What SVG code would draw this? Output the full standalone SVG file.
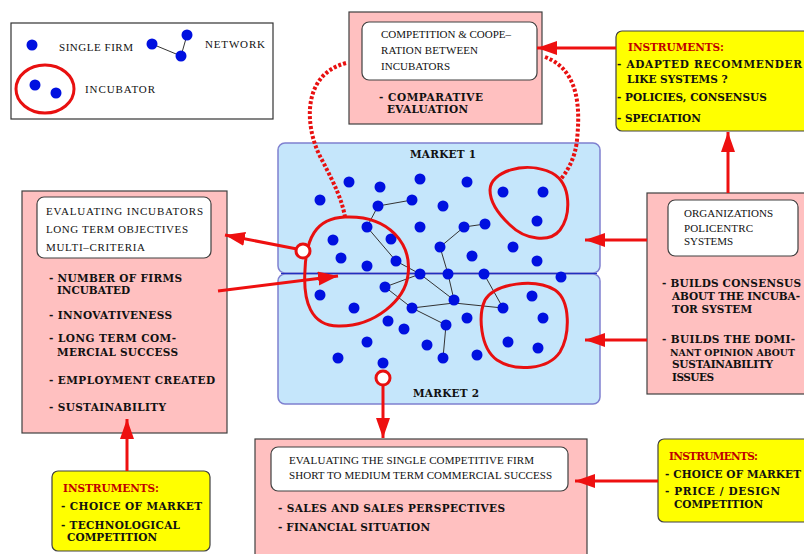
<svg xmlns="http://www.w3.org/2000/svg" width="804" height="554" viewBox="0 0 804 554">
<defs>
<style>
.pink{fill:#ffc0c0;stroke:#404040;stroke-width:1.2}
.yel{fill:#ffff00;stroke:#404040;stroke-width:1.2}
.wbox{fill:#ffffff;stroke:#404040;stroke-width:1.2}
.mkt{fill:#c5e6fb;stroke:#7f80d0;stroke-width:1.5}
.reg{font-family:"Liberation Serif","Times New Roman",serif;font-size:11px;fill:#111}
.bold{font-family:"DejaVu Serif",serif;font-weight:bold;font-size:10.5px;fill:#111}
.instr{font-family:"DejaVu Serif",serif;font-weight:bold;font-size:10.5px;fill:#c00000}
.dot{fill:#0010e0}
.net{stroke:#333;stroke-width:1;fill:none}
.inc{fill:none;stroke:#e81010;stroke-width:3}
.dotted{fill:none;stroke:#e81010;stroke-width:4;stroke-dasharray:3 2}
.arr{stroke:#ee1010;stroke-width:3;fill:none;marker-end:url(#ah)}
.ring{fill:#ffffff;stroke:#e81010;stroke-width:3}
</style>
<marker id="ah" markerUnits="userSpaceOnUse" markerWidth="22" markerHeight="16" refX="20" refY="7" orient="auto">
<path d="M0,0 L20,7 L0,14 z" fill="#ee1010"/>
</marker>
</defs>
<rect width="804" height="554" fill="#ffffff"/>

<g id="legend">
<rect x="11" y="23" width="262" height="96" fill="#fff" stroke="#333" stroke-width="1.2"/>
<circle class="dot" cx="32" cy="45" r="5.5"/>
<text class="reg" x="59" y="51" textLength="74">SINGLE FIRM</text>
<line class="net" x1="152" y1="44" x2="181" y2="56"/>
<line class="net" x1="181" y1="56" x2="187" y2="35"/>
<circle class="dot" cx="152" cy="44" r="5.5"/>
<circle class="dot" cx="187" cy="35" r="5.5"/>
<circle class="dot" cx="181" cy="56" r="5.5"/>
<text class="reg" x="205" y="48" textLength="60">NETWORK</text>
<ellipse class="inc" cx="45" cy="89" rx="29" ry="24"/>
<circle class="dot" cx="35" cy="85" r="5.5"/>
<circle class="dot" cx="56" cy="93" r="5.5"/>
<text class="reg" x="85" y="93" textLength="70">INCUBATOR</text>
</g>

<g id="competition">
<rect class="pink" x="349" y="12" width="193" height="112"/>
<rect class="wbox" x="362" y="22" width="175" height="58" rx="7"/>
<text class="reg" x="381" y="38" textLength="130">COMPETITION &amp; COOPE–</text>
<text class="reg" x="381" y="54" textLength="97">RATION BETWEEN</text>
<text class="reg" x="381" y="70" textLength="69">INCUBATORS</text>
<text class="bold" x="379" y="101" textLength="104">- COMPARATIVE</text>
<text class="bold" x="387" y="113" textLength="81">EVALUATION</text>
</g>

<g id="instruments-top">
<rect class="yel" x="616" y="31" width="200" height="100" rx="6"/>
<text class="instr" x="628" y="51" textLength="96">INSTRUMENTS:</text>
<text class="bold" x="617" y="68" textLength="185">- ADAPTED RECOMMENDER</text>
<text class="bold" x="627" y="83">LIKE SYSTEMS ?</text>
<text class="bold" x="617" y="101">- POLICIES, CONSENSUS</text>
<text class="bold" x="617" y="122">- SPECIATION</text>
</g>

<g id="markets">
<rect class="mkt" x="278" y="143" width="322" height="130" rx="7"/>
<rect class="mkt" x="278" y="274" width="322" height="130" rx="7"/>
<line x1="281" y1="273.5" x2="597" y2="273.5" stroke="#2030c0" stroke-width="1.2"/>
<text class="bold" x="410" y="158" textLength="66">MARKET 1</text>
<text class="bold" x="413" y="397" textLength="66">MARKET 2</text>
</g>

<g id="network-links">
<line class="net" x1="378" y1="206" x2="412" y2="200"/>
<line class="net" x1="378" y1="206" x2="367" y2="227"/>
<line class="net" x1="367" y1="227" x2="396" y2="261"/>
<line class="net" x1="396" y1="261" x2="420" y2="274"/>
<line class="net" x1="420" y1="274" x2="385" y2="287"/>
<line class="net" x1="420" y1="274" x2="454" y2="300"/>
<line class="net" x1="448" y1="274" x2="454" y2="300"/>
<line class="net" x1="440" y1="247" x2="448" y2="274"/>
<line class="net" x1="440" y1="247" x2="464" y2="227"/>
<line class="net" x1="464" y1="227" x2="485" y2="224"/>
<line class="net" x1="484" y1="274" x2="503" y2="308"/>
<line class="net" x1="385" y1="287" x2="412" y2="308"/>
<polyline class="net" points="412,308 454,303 503,308"/>
<line class="net" x1="412" y1="308" x2="446" y2="325"/>
<line class="net" x1="446" y1="325" x2="443" y2="358"/>
</g>

<g id="firms">
<circle class="dot" cx="349" cy="182" r="5.5"/>
<circle class="dot" cx="380" cy="187" r="5.5"/>
<circle class="dot" cx="420" cy="179" r="5.5"/>
<circle class="dot" cx="467" cy="182" r="5.5"/>
<circle class="dot" cx="320" cy="200" r="5.5"/>
<circle class="dot" cx="378" cy="206" r="5.5"/>
<circle class="dot" cx="412" cy="200" r="5.5"/>
<circle class="dot" cx="443" cy="206" r="5.5"/>
<circle class="dot" cx="503" cy="192" r="5.5"/>
<circle class="dot" cx="543" cy="192" r="5.5"/>
<circle class="dot" cx="537" cy="221" r="5.5"/>
<circle class="dot" cx="367" cy="227" r="5.5"/>
<circle class="dot" cx="420" cy="227" r="5.5"/>
<circle class="dot" cx="464" cy="227" r="5.5"/>
<circle class="dot" cx="485" cy="224" r="5.5"/>
<circle class="dot" cx="333" cy="240" r="5.5"/>
<circle class="dot" cx="391" cy="239" r="5.5"/>
<circle class="dot" cx="440" cy="247" r="5.5"/>
<circle class="dot" cx="472" cy="256" r="5.5"/>
<circle class="dot" cx="513" cy="247" r="5.5"/>
<circle class="dot" cx="341" cy="258" r="5.5"/>
<circle class="dot" cx="367" cy="266" r="5.5"/>
<circle class="dot" cx="396" cy="261" r="5.5"/>
<circle class="dot" cx="537" cy="261" r="5.5"/>
<circle class="dot" cx="420" cy="274" r="5.5"/>
<circle class="dot" cx="448" cy="274" r="5.5"/>
<circle class="dot" cx="484" cy="274" r="5.5"/>
<circle class="dot" cx="561" cy="277" r="5.5"/>
<circle class="dot" cx="320" cy="295" r="5.5"/>
<circle class="dot" cx="385" cy="287" r="5.5"/>
<circle class="dot" cx="354" cy="308" r="5.5"/>
<circle class="dot" cx="454" cy="300" r="5.5"/>
<circle class="dot" cx="532" cy="296" r="5.5"/>
<circle class="dot" cx="412" cy="308" r="5.5"/>
<circle class="dot" cx="503" cy="308" r="5.5"/>
<circle class="dot" cx="467" cy="318" r="5.5"/>
<circle class="dot" cx="543" cy="318" r="5.5"/>
<circle class="dot" cx="388" cy="321" r="5.5"/>
<circle class="dot" cx="404" cy="329" r="5.5"/>
<circle class="dot" cx="446" cy="325" r="5.5"/>
<circle class="dot" cx="508" cy="342" r="5.5"/>
<circle class="dot" cx="538" cy="348" r="5.5"/>
<circle class="dot" cx="367" cy="342" r="5.5"/>
<circle class="dot" cx="427" cy="345" r="5.5"/>
<circle class="dot" cx="338" cy="358" r="5.5"/>
<circle class="dot" cx="383" cy="363" r="5.5"/>
<circle class="dot" cx="443" cy="358" r="5.5"/>
<circle class="dot" cx="477" cy="355" r="5.5"/>
</g>

<g id="incubators">
<path class="inc" d="M345 217 C390 215 412 245 408 275 C405 300 375 326 340 326 C310 327 303 300 305 270 C306 240 315 218 345 217 Z"/>
<path class="inc" d="M490 190 C490 172 525 160 552 173 C572 184 571 215 560 230 C550 243 525 240 510 225 C496 212 490 200 490 190 Z"/>
<path class="inc" d="M485 300 C495 283 535 278 555 290 C571 301 570 335 560 352 C548 370 515 372 497 360 C480 348 478 315 485 300 Z"/>
</g>

<g id="left-panel">
<rect class="pink" x="22" y="191" width="205" height="242"/>
<rect class="wbox" x="37" y="197" width="174" height="61" rx="7"/>
<text class="reg" x="46" y="215" textLength="157">EVALUATING INCUBATORS</text>
<text class="reg" x="46" y="233" textLength="142">LONG TERM OBJECTIVES</text>
<text class="reg" x="46" y="251" textLength="99">MULTI–CRITERIA</text>
<text class="bold" x="49" y="282" textLength="133">- NUMBER OF FIRMS</text>
<text class="bold" x="57" y="294" textLength="73">INCUBATED</text>
<text class="bold" x="49" y="319" textLength="123">- INNOVATIVENESS</text>
<text class="bold" x="49" y="342" textLength="127">- LONG TERM COM-</text>
<text class="bold" x="57" y="356" textLength="121">MERCIAL SUCCESS</text>
<text class="bold" x="49" y="384" textLength="166">- EMPLOYMENT CREATED</text>
<text class="bold" x="49" y="411" textLength="117">- SUSTAINABILITY</text>
</g>

<g id="right-panel">
<rect class="pink" x="647" y="193" width="170" height="201"/>
<rect class="wbox" x="668" y="200" width="130" height="56" rx="7"/>
<text class="reg" x="684" y="217" textLength="89">ORGANIZATIONS</text>
<text class="reg" x="684" y="232" textLength="69">POLICENTRC</text>
<text class="reg" x="684" y="245" textLength="49">SYSTEMS</text>
<text class="bold" x="662" y="287" textLength="139">- BUILDS CONSENSUS</text>
<text class="bold" x="672" y="300" textLength="128">ABOUT THE INCUBA-</text>
<text class="bold" x="672" y="313" textLength="80">TOR SYSTEM</text>
<text class="bold" x="662" y="343" textLength="133">- BUILDS THE DOMI-</text>
<text class="bold" x="670" y="356" style="font-size:9.3px">NANT OPINION ABOUT</text>
<text class="bold" x="672" y="368" textLength="101">SUSTAINABILITY</text>
<text class="bold" x="672" y="381" textLength="42">ISSUES</text>
</g>

<g id="bottom-panel">
<rect class="pink" x="255" y="439" width="332" height="125"/>
<rect class="wbox" x="271" y="447" width="297" height="44" rx="7"/>
<text class="reg" x="289" y="464" textLength="245">EVALUATING THE SINGLE COMPETITIVE FIRM</text>
<text class="reg" x="289" y="479" textLength="263">SHORT TO MEDIUM TERM COMMERCIAL SUCCESS</text>
<text class="bold" x="278" y="512" textLength="227">- SALES AND SALES PERSPECTIVES</text>
<text class="bold" x="278" y="531" textLength="152">- FINANCIAL SITUATION</text>
</g>

<g id="instruments-left">
<rect class="yel" x="52" y="471" width="158" height="80" rx="6"/>
<text class="instr" x="63" y="492" textLength="96">INSTRUMENTS:</text>
<text class="bold" x="61" y="510" textLength="141">- CHOICE OF MARKET</text>
<text class="bold" x="61" y="529" textLength="119">- TECHNOLOGICAL</text>
<text class="bold" x="67" y="541" textLength="90">COMPETITION</text>
</g>

<g id="instruments-right">
<rect class="yel" x="658" y="439" width="160" height="83" rx="6"/>
<text class="instr" x="669" y="460" textLength="89">INSTRUMENTS:</text>
<text class="bold" x="665" y="478" textLength="136">- CHOICE OF MARKET</text>
<text class="bold" x="665" y="495" textLength="115">- PRICE / DESIGN</text>
<text class="bold" x="674" y="508" textLength="89">COMPETITION</text>
</g>

<g id="connectors">
<path class="dotted" d="M346 63 C300 75 305 130 322 160 C335 185 342 200 345 217"/>
<path class="dotted" d="M545 57 C580 70 580 110 577 140 C575 160 566 173 560 180"/>
<line class="arr" x1="616" y1="48" x2="537" y2="48"/>
<line class="arr" x1="728" y1="193" x2="728" y2="132"/>
<line class="arr" x1="647" y1="240" x2="585" y2="240"/>
<line class="arr" x1="647" y1="340" x2="585" y2="340"/>
<line class="arr" x1="297" y1="249" x2="225" y2="235"/>
<line class="arr" x1="218" y1="291" x2="338" y2="276"/>
<line class="arr" x1="383" y1="385" x2="383" y2="438"/>
<line class="arr" x1="127" y1="471" x2="127" y2="419"/>
<line class="arr" x1="658" y1="481" x2="575" y2="481"/>
<circle class="ring" cx="303" cy="251" r="7"/>
<circle class="ring" cx="383" cy="378" r="7"/>
</g>
</svg>
